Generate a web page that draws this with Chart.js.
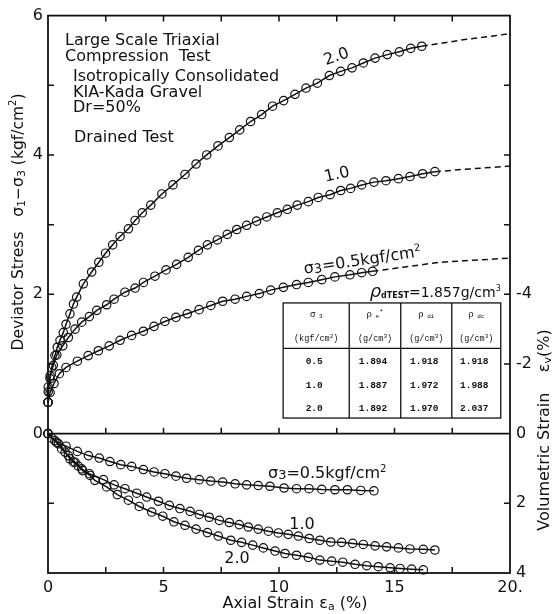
<!DOCTYPE html>
<html>
<head>
<meta charset="utf-8">
<script src="https://cdn.jsdelivr.net/npm/chart.js@4.4.1/dist/chart.umd.min.js"></script>
<style>
  body { margin: 0; background: #fff; }
  canvas { display: block; }
</style>
</head>
<body>
<canvas id="triax" width="559" height="614"></canvas>
<script>
// axial strain (%) vs deviator stress (kgf/cm2), one list per confining pressure
const dev05 = [[0,0.45],[0.09,0.59],[0.26,0.72],[0.49,0.86],[0.78,0.95],[1.27,1.04],[1.74,1.12],[2.18,1.19],[2.65,1.26],[3.12,1.34],[3.62,1.41],[4.13,1.47],[4.59,1.54],[5.06,1.61],[5.54,1.67],[6.03,1.72],[6.54,1.78],[7.05,1.84],[7.56,1.90],[8.10,1.93],[8.60,1.97],[9.15,2.01],[9.64,2.06],[10.19,2.10],[10.76,2.14],[11.27,2.17],[11.85,2.21],[12.42,2.25],[13.07,2.28],[13.58,2.31],[14.05,2.33]];
const dev10 = [[0,0.45],[0.01,0.67],[0.09,0.83],[0.23,0.98],[0.38,1.13],[0.64,1.26],[0.88,1.38],[1.17,1.50],[1.46,1.60],[1.79,1.68],[2.11,1.77],[2.54,1.85],[2.86,1.93],[3.33,2.03],[3.77,2.09],[4.13,2.17],[4.63,2.26],[5.11,2.35],[5.57,2.43],[6.07,2.53],[6.51,2.63],[6.90,2.71],[7.33,2.78],[7.76,2.86],[8.17,2.93],[8.60,2.99],[9.03,3.05],[9.47,3.11],[9.93,3.17],[10.36,3.22],[10.79,3.28],[11.27,3.33],[11.70,3.39],[12.21,3.43],[12.67,3.49],[13.10,3.52],[13.58,3.57],[14.11,3.61],[14.63,3.63],[15.17,3.66],[15.67,3.69],[16.22,3.73],[16.75,3.76]];
const dev20 = [[0,0.45],[0.01,0.60],[0.09,0.79],[0.16,0.95],[0.30,1.12],[0.40,1.24],[0.52,1.34],[0.66,1.45],[0.78,1.57],[0.95,1.72],[1.10,1.86],[1.24,1.96],[1.53,2.15],[1.89,2.32],[2.20,2.46],[2.49,2.59],[2.80,2.71],[3.12,2.83],[3.48,2.94],[3.77,3.06],[4.08,3.17],[4.45,3.28],[4.93,3.44],[5.41,3.57],[5.93,3.72],[6.41,3.87],[6.87,4.00],[7.36,4.13],[7.85,4.25],[8.30,4.36],[8.77,4.48],[9.25,4.58],[9.72,4.70],[10.20,4.78],[10.69,4.87],[11.17,4.96],[11.66,5.03],[12.18,5.14],[12.67,5.20],[13.16,5.25],[13.65,5.32],[14.16,5.39],[14.69,5.44],[15.21,5.48],[15.70,5.53],[16.18,5.56]];

// dashed extrapolation of each stress curve
const ext05 = [[14.05,2.33],[16.97,2.46],[20,2.52]];
const ext10 = [[16.75,3.76],[18.27,3.80],[20,3.84]];
const ext20 = [[16.18,5.56],[18.12,5.66],[20,5.74]];

// axial strain (%) vs volumetric strain (%)
const vol05 = [[0,0],[0.30,0.20],[0.78,0.36],[1.27,0.51],[1.75,0.63],[2.22,0.70],[2.68,0.80],[3.15,0.89],[3.62,0.94],[4.13,1.03],[4.59,1.10],[5.06,1.15],[5.54,1.22],[6.00,1.28],[6.55,1.32],[7.04,1.36],[7.56,1.39],[8.10,1.44],[8.60,1.47],[9.10,1.49],[9.61,1.51],[10.22,1.56],[10.76,1.58],[11.30,1.58],[11.85,1.60],[12.42,1.61],[12.96,1.61],[13.54,1.63],[14.11,1.64]];
const vol10 = [[0,0],[0.37,0.25],[0.59,0.44],[0.88,0.63],[1.17,0.82],[1.46,1.01],[1.79,1.15],[2.40,1.32],[2.86,1.47],[3.33,1.58],[3.84,1.71],[4.27,1.82],[4.78,1.94],[5.25,2.06],[5.71,2.15],[6.15,2.23],[6.55,2.32],[6.98,2.40],[7.42,2.49],[7.85,2.55],[8.28,2.61],[8.67,2.68],[9.10,2.74],[9.54,2.80],[9.97,2.85],[10.40,2.89],[10.84,2.94],[11.31,3.01],[11.77,3.06],[12.24,3.11],[12.71,3.12],[13.19,3.15],[13.65,3.18],[14.16,3.22],[14.66,3.25],[15.17,3.28],[15.67,3.31],[16.25,3.32],[16.75,3.34]];
const vol20 = [[0,0],[0.16,0.13],[0.45,0.29],[0.74,0.53],[0.95,0.72],[1.10,0.82],[1.31,0.93],[1.50,1.06],[1.82,1.20],[2.03,1.34],[2.54,1.53],[3.00,1.75],[3.48,1.91],[3.95,2.09],[4.49,2.25],[4.97,2.37],[5.45,2.53],[5.93,2.63],[6.41,2.74],[6.90,2.84],[7.37,2.94],[7.91,3.06],[8.38,3.12],[8.86,3.20],[9.32,3.28],[9.83,3.37],[10.26,3.44],[10.76,3.49],[11.27,3.55],[11.77,3.63],[12.28,3.66],[12.76,3.69],[13.29,3.75],[13.80,3.79],[14.30,3.82],[14.81,3.85],[15.24,3.87],[15.74,3.89],[16.25,3.91]];

// tick labels
const xLabels = { 0: '0', 5: '5', 10: '10', 15: '15', 20: '20.' };
const yLabels = { 0: '0', 2: '2', 4: '4', 6: '6' };
const y2Labels = { '-4': '-4', '-2': '-2', 0: '0', 2: '2', 4: '4' };

// density table
const tableSigma = ['0.5', '1.0', '2.0'];
const tableRhoE = ['1.894', '1.887', '1.892'];
const tableRhoDi = ['1.918', '1.972', '1.970'];
const tableRhoDc = ['1.918', '1.988', '2.037'];

const FONT = '"DejaVu Sans", sans-serif';
const MONO = '"Liberation Mono", monospace';
const INK = '#111';

function series(pts, axis, dashed) {
    return {
        data: pts.map(([x, y]) => ({ x, y })),
        yAxisID: axis,
        borderColor: INK,
        borderWidth: 1.5,
        borderDash: dashed ? [6, 4] : [],
        pointRadius: dashed ? 0 : 4.2,
        pointHoverRadius: 0,
        pointBorderWidth: 1.2,
        pointBorderColor: INK,
        pointBackgroundColor: 'rgba(0,0,0,0)',
        fill: false,
        tension: 0,
        clip: false,
    };
}

// draws a run of text pieces with their own size / offset (sub- and superscripts)
function drawRich(ctx, parts, x, y, align, angle) {
    ctx.save();
    ctx.translate(x, y);
    ctx.rotate(((angle || 0) * Math.PI) / 180);
    ctx.textBaseline = 'alphabetic';
    ctx.textAlign = 'left';
    const widths = parts.map((p) => {
        ctx.font = `${p.style || ''} ${p.s}px ${p.f || FONT}`;
        return ctx.measureText(p.t).width;
    });
    const total = widths.reduce((a, b) => a + b, 0);
    let cx = align === 'center' ? -total / 2 : align === 'right' ? -total : 0;
    parts.forEach((p, i) => {
        ctx.font = `${p.style || ''} ${p.s}px ${p.f || FONT}`;
        ctx.fillText(p.t, cx, p.dy || 0);
        cx += widths[i];
    });
    ctx.restore();
}

function sigma3Label(size) {
    return [
        { t: 'σ', s: size },
        { t: '3', s: size - 3, dy: 1 },
        { t: '=0.5kgf/cm', s: size },
        { t: '2', s: size - 6, dy: -6 },
    ];
}

const framePlugin = {
    id: 'frame',
    afterDraw(chart) {
        const { ctx, chartArea: a, scales } = chart;
        const { x, y, y2 } = scales;
        const tl = 6;
        ctx.save();
        ctx.strokeStyle = INK;
        ctx.fillStyle = INK;
        ctx.lineWidth = 1.8;
        ctx.strokeRect(a.left, a.top, a.right - a.left, a.bottom - a.top);

        const y0 = y.getPixelForValue(0);
        ctx.beginPath();
        ctx.moveTo(a.left, y0);
        ctx.lineTo(a.right, y0);
        ctx.stroke();

        ctx.lineWidth = 1.5;
        ctx.beginPath();
        for (let v = 2.5; v < 20; v += 2.5) {
            const px = x.getPixelForValue(v);
            ctx.moveTo(px, a.top); ctx.lineTo(px, a.top + tl);
            ctx.moveTo(px, a.bottom); ctx.lineTo(px, a.bottom - tl);
            ctx.moveTo(px, y0); ctx.lineTo(px, y0 - tl);
        }
        for (let v = -1; v < 6; v++) {
            if (v === 0) continue;
            const py = y.getPixelForValue(v);
            ctx.moveTo(a.left, py); ctx.lineTo(a.left + tl, py);
        }
        for (let v = -10; v < 4; v += 2) {
            if (v === 0) continue;
            const py = y2.getPixelForValue(v);
            ctx.moveTo(a.right, py); ctx.lineTo(a.right - tl, py);
        }
        ctx.stroke();

        // notes in the upper left corner
        ctx.font = `16px ${FONT}`;
        ctx.textAlign = 'left';
        ctx.textBaseline = 'alphabetic';
        ctx.fillText('Large Scale Triaxial', 65, 45);
        ctx.fillText('Compression  Test', 65, 61);
        ctx.fillText('Isotropically Consolidated', 73, 81);
        ctx.fillText('KIA-Kada Gravel', 73, 97);
        ctx.fillText('Dr=50%', 73, 112);
        ctx.fillText('Drained Test', 74, 142);

        // curve labels, stress panel
        drawRich(ctx, [{ t: '2.0', s: 16 }], 338, 61, 'center', -20);
        drawRich(ctx, [{ t: '1.0', s: 16 }], 338, 179, 'center', -13);
        drawRich(ctx, sigma3Label(16), 363, 265, 'center', -8.5);

        // curve labels, volume panel
        drawRich(ctx, sigma3Label(16), 268, 478, 'left');
        drawRich(ctx, [{ t: '1.0', s: 16 }], 302, 529, 'center');
        drawRich(ctx, [{ t: '2.0', s: 16 }], 237, 563, 'center');

        // axis titles
        drawRich(ctx, [
            { t: 'Deviator Stress   σ', s: 15.5 },
            { t: '1', s: 11, dy: 2 },
            { t: '−σ', s: 15.5 },
            { t: '3', s: 11, dy: 2 },
            { t: ' (kgf/cm', s: 15.5 },
            { t: '2', s: 10, dy: -7 },
            { t: ')', s: 15.5 },
        ], 23, 222, 'center', -90);
        drawRich(ctx, [
            { t: 'Volumetric Strain    ε', s: 16 },
            { t: 'v', s: 11, dy: 2 },
            { t: '(%)', s: 16 },
        ], 549, 430, 'center', -90);
        drawRich(ctx, [
            { t: 'Axial Strain ε', s: 16 },
            { t: 'a', s: 11, dy: 2 },
            { t: ' (%)', s: 16 },
        ], 295, 608, 'center');

        // density table
        const cols = [10.18, 13.04, 15.27, 17.48, 19.6].map((v) => x.getPixelForValue(v));
        const rowTop = y.getPixelForValue(1.876);
        const rowMid = y.getPixelForValue(1.224);
        const rowBot = y.getPixelForValue(0.224);
        drawRich(ctx, [
            { t: 'ρ', s: 18, style: 'italic' },
            { t: 'dTEST', s: 8, style: 'bold', dy: 1 },
            { t: '=1.857g/cm', s: 14 },
            { t: '3', s: 8, dy: -6 },
        ], cols[4], rowTop - 6, 'right');

        ctx.lineWidth = 1.3;
        ctx.strokeRect(cols[0], rowTop, cols[4] - cols[0], rowBot - rowTop);
        ctx.beginPath();
        for (let i = 1; i < 4; i++) {
            ctx.moveTo(cols[i], rowTop); ctx.lineTo(cols[i], rowBot);
        }
        ctx.moveTo(cols[0], rowMid); ctx.lineTo(cols[4], rowMid);
        ctx.stroke();

        const mids = [0, 1, 2, 3].map((i) => (cols[i] + cols[i + 1]) / 2);
        const hy1 = rowTop + 14;
        const hy2 = rowTop + 38;
        const heads = [
            [{ t: 'σ', s: 9, f: MONO }, { t: ' 3', s: 6, f: MONO, dy: 1 }],
            [{ t: 'ρ', s: 9, f: MONO }, { t: ' e', s: 6, f: MONO, dy: 1 }, { t: '*', s: 7, f: MONO, dy: -3 }],
            [{ t: 'ρ', s: 9, f: MONO }, { t: ' di', s: 6, f: MONO, dy: 1 }],
            [{ t: 'ρ', s: 9, f: MONO }, { t: ' dc', s: 6, f: MONO, dy: 1 }],
        ];
        heads.forEach((h, i) => drawRich(ctx, h, mids[i], hy1, 'center'));
        drawRich(ctx, [{ t: '(kgf/cm', s: 8.5, f: MONO }, { t: '2', s: 6, f: MONO, dy: -3 }, { t: ')', s: 8.5, f: MONO }], mids[0], hy2, 'center');
        for (let i = 1; i < 4; i++) {
            drawRich(ctx, [{ t: '(g/cm', s: 8.5, f: MONO }, { t: '3', s: 6, f: MONO, dy: -3 }, { t: ')', s: 8.5, f: MONO }], mids[i], hy2, 'center');
        }
        const rowsY = [1.043, 0.700, 0.371].map((v) => y.getPixelForValue(v) + 3);
        ctx.font = `bold 9.5px ${MONO}`;
        ctx.textAlign = 'center';
        [tableSigma, tableRhoE, tableRhoDi, tableRhoDc].forEach((col, i) => {
            col.forEach((val, r) => {
                ctx.fillText(val, mids[i] - 2, rowsY[r]);
            });
        });
        ctx.restore();
    },
};

new Chart(document.getElementById('triax'), {
    type: 'line',
    data: {
        datasets: [
            series(dev05, 'y'), series(dev10, 'y'), series(dev20, 'y'),
            series(ext05, 'y', true), series(ext10, 'y', true), series(ext20, 'y', true),
            series(vol05, 'y2'), series(vol10, 'y2'), series(vol20, 'y2'),
        ],
    },
    options: {
        responsive: false,
        animation: false,
        devicePixelRatio: 1,
        layout: { padding: { top: 13, left: 0, right: 0, bottom: 0 } },
        plugins: { legend: { display: false }, tooltip: { enabled: false } },
        scales: {
            x: {
                type: 'linear',
                min: 0,
                max: 20,
                grid: { display: false, drawTicks: false },
                border: { display: false },
                afterFit: (s) => { s.height = 41; },
                ticks: {
                    stepSize: 2.5,
                    autoSkip: false,
                    maxRotation: 0,
                    padding: 5,
                    color: INK,
                    font: { family: FONT, size: 16 },
                    callback: (v) => xLabels[v] || '',
                },
            },
            y: {
                type: 'linear',
                position: 'left',
                min: -2,
                max: 6,
                grid: { display: false, drawTicks: false },
                border: { display: false },
                afterFit: (s) => { s.width = 48; },
                ticks: {
                    stepSize: 1,
                    autoSkip: false,
                    padding: 5,
                    color: INK,
                    font: { family: FONT, size: 16 },
                    callback: (v) => yLabels[v] || '',
                },
            },
            y2: {
                type: 'linear',
                position: 'right',
                reverse: true,
                min: -12,
                max: 4,
                grid: { display: false, drawTicks: false },
                border: { display: false },
                afterFit: (s) => { s.width = 49; },
                ticks: {
                    stepSize: 2,
                    autoSkip: false,
                    padding: 6,
                    color: INK,
                    font: { family: FONT, size: 16 },
                    callback: (v) => y2Labels[v] || '',
                },
            },
        },
    },
    plugins: [framePlugin],
});
</script>
</body>
</html>
